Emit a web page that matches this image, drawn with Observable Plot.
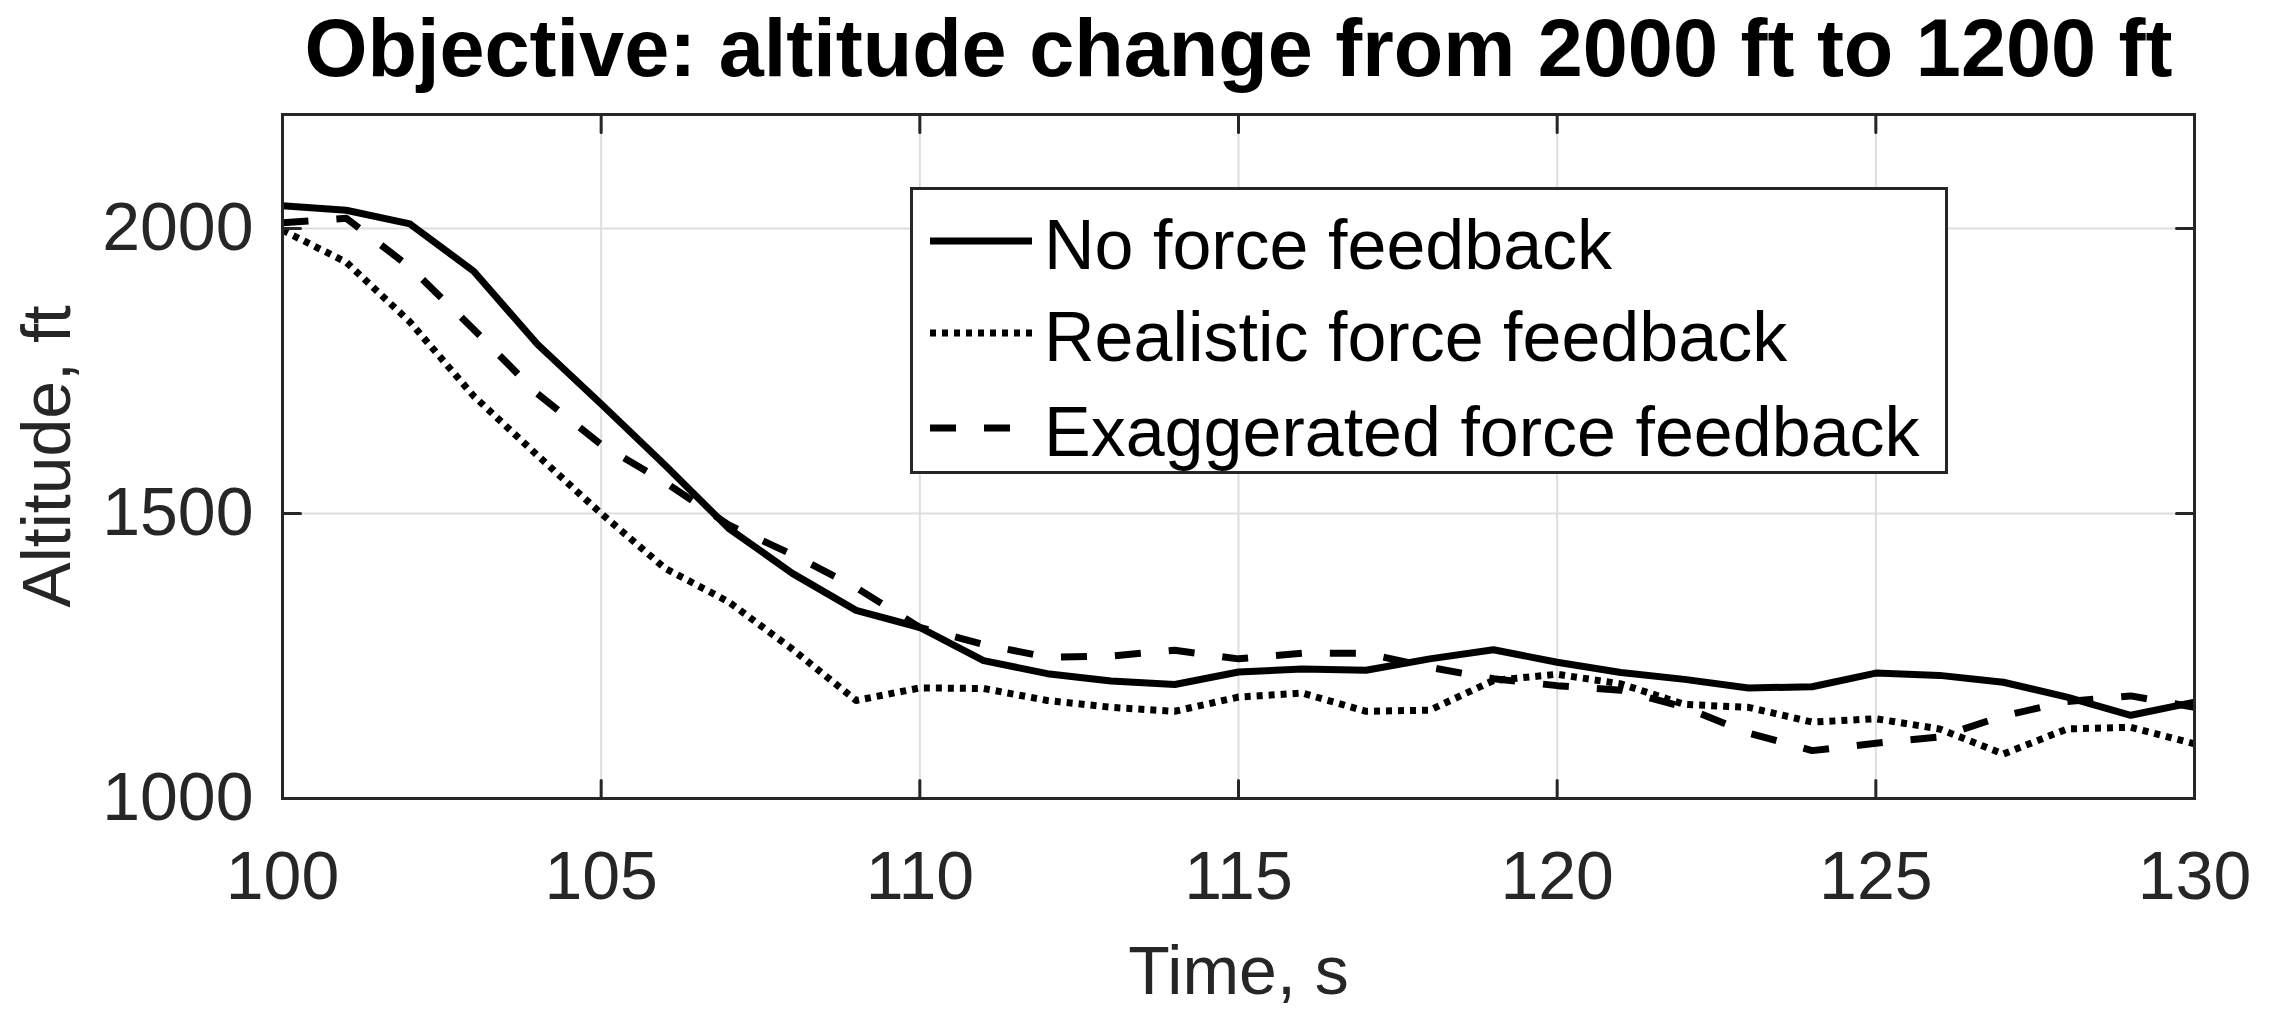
<!DOCTYPE html>
<html>
<head>
<meta charset="utf-8">
<script src="https://cdn.jsdelivr.net/npm/d3@7"></script>
<script src="https://cdn.jsdelivr.net/npm/@observablehq/plot@0.6"></script>
<style>
  html, body { margin: 0; padding: 0; background: #fff; }
  #wrap { position: relative; width: 2271px; height: 1022px; font-family: "Liberation Sans", Arial, sans-serif; }
  #legend { position: absolute; left: 910px; top: 187px; width: 1032px; height: 281px; border: 3px solid #262626; background: #fff; }
</style>
</head>
<body>
<div id="wrap"></div>
<script>
// ---- data ----
const time = d3.range(100, 131);
const noForce = [2040, 2032, 2008, 1925, 1797, 1692, 1585, 1474, 1395, 1330, 1300,
                 1242, 1219, 1206, 1200, 1222, 1227, 1225, 1245, 1261, 1239,
                 1221, 1209, 1194, 1196, 1220, 1216, 1204, 1178, 1146, 1169];
const realistic = [1997, 1941, 1836, 1706, 1602, 1500, 1404, 1345, 1262, 1172, 1194,
                   1193, 1172, 1160, 1153, 1178, 1185, 1153, 1155, 1207, 1218,
                   1201, 1165, 1160, 1134, 1140, 1122, 1078, 1122, 1125, 1096];
const exaggerated = [2010, 2018, 1932, 1823, 1710, 1621, 1555, 1480, 1428, 1370, 1300,
                     1270, 1248, 1250, 1260, 1245, 1255, 1255, 1230, 1210, 1198,
                     1190, 1160, 1115, 1084, 1097, 1108, 1145, 1170, 1180, 1160];
const seriesNames = ["No force feedback", "Realistic force feedback", "Exaggerated force feedback"];
const xTicks = [100, 105, 110, 115, 120, 125, 130];
const yTicks = [1000, 1500, 2000];
const xDomain = [100, 130];
const yDomain = [1000, 2200];
const titleText = "Objective: altitude change from 2000 ft to 1200 ft";
const xLabel = "Time, s";
const yLabel = "Altitude, ft";

// ---- styles ----
const dashes = [null, "6,6", "26,28"];
const ink = "#262626";
const series = [noForce, realistic, exaggerated];
const rows = [];
series.forEach((vals, s) => vals.forEach((v, i) => rows.push({t: time[i], v, s: seriesNames[s]})));

const tickShape = {draw(ctx, l) { ctx.moveTo(0, 0); ctx.lineTo(0, -l); }};

const lineMarks = seriesNames.map((name, s) =>
  Plot.line(rows.filter(d => d.s === name), {
    x: "t", y: "v", stroke: "#000", strokeWidth: 7,
    strokeDasharray: dashes[s], strokeLinecap: "butt", strokeLinejoin: "round"
  })
);

const chart = Plot.plot({
  width: 2271,
  height: 1022,
  marginLeft: 282,
  marginRight: 77,
  marginTop: 114,
  marginBottom: 224,
  style: {fontFamily: '"Liberation Sans", Arial, sans-serif', background: "#fff", color: ink},
  x: {domain: xDomain},
  y: {domain: yDomain},
  marks: [
    Plot.gridX(xTicks, {stroke: "#dedede", strokeOpacity: 1, strokeWidth: 2}),
    Plot.gridY(yTicks, {stroke: "#dedede", strokeOpacity: 1, strokeWidth: 2}),
    ...lineMarks,
    Plot.axisX(xTicks, {tickSize: 0, tickPadding: 52, fontSize: 68, fill: ink, label: null, tickFormat: d => String(d)}),
    Plot.axisY(yTicks, {tickSize: 0, tickPadding: 29, fontSize: 68, fill: ink, label: null, tickFormat: d => String(d)}),
    // inward ticks on all four sides
    Plot.vector(xTicks, {x: d => d, frameAnchor: "bottom", length: 18, rotate: 0, anchor: "start", shape: tickShape, stroke: ink, strokeWidth: 3}),
    Plot.vector(xTicks, {x: d => d, frameAnchor: "top", length: 18, rotate: 180, anchor: "start", shape: tickShape, stroke: ink, strokeWidth: 3}),
    Plot.vector(yTicks, {y: d => d, frameAnchor: "left", length: 18, rotate: 90, anchor: "start", shape: tickShape, stroke: ink, strokeWidth: 3}),
    Plot.vector(yTicks, {y: d => d, frameAnchor: "right", length: 18, rotate: 270, anchor: "start", shape: tickShape, stroke: ink, strokeWidth: 3}),
    Plot.frame({stroke: ink, strokeWidth: 3}),
    Plot.text([titleText], {text: d => d, frameAnchor: "top", dy: -64, lineAnchor: "middle", fontSize: 81, fontWeight: "bold", fill: "#000"}),
    Plot.text([xLabel], {text: d => d, frameAnchor: "bottom", dy: 174, lineAnchor: "middle", fontSize: 68, fill: ink}),
    Plot.text([yLabel], {text: d => d, frameAnchor: "left", dx: -234, rotate: -90, textAnchor: "middle", lineAnchor: "middle", fontSize: 68, fill: ink})
  ]
});
const wrap = document.getElementById("wrap");
wrap.appendChild(chart);

// ---- legend overlay ----
const legend = document.createElement("div");
legend.id = "legend";
wrap.appendChild(legend);
const lsvg = d3.select(legend).append("svg").attr("width", 1032).attr("height", 281);
const rowY = [51, 143, 238];
seriesNames.forEach((name, s) => {
  lsvg.append("line")
    .attr("x1", 17).attr("x2", 119).attr("y1", rowY[s]).attr("y2", rowY[s])
    .attr("stroke", "#000").attr("stroke-width", 7)
    .attr("stroke-dasharray", dashes[s]).attr("stroke-linecap", "butt");
  lsvg.append("text")
    .attr("x", 131).attr("y", rowY[s] + 28)
    .attr("font-family", '"Liberation Sans", Arial, sans-serif')
    .attr("font-size", 70).attr("fill", "#000")
    .text(name);
});
</script>
</body>
</html>
